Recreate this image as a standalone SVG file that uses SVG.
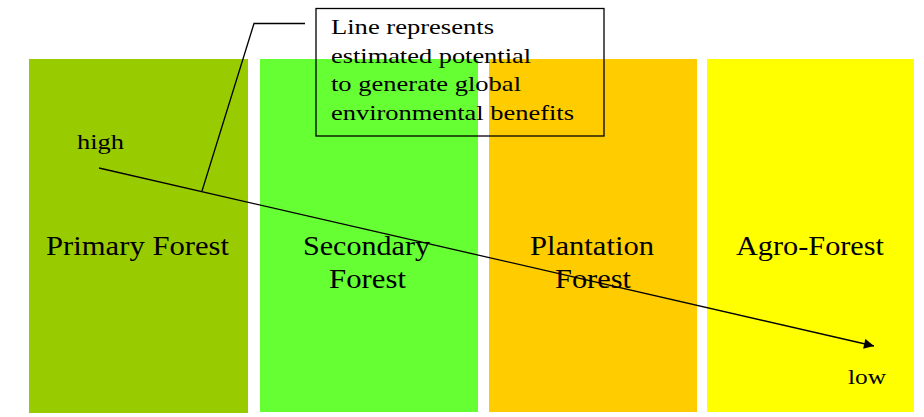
<svg xmlns="http://www.w3.org/2000/svg" width="924" height="417" viewBox="0 0 924 417">
<style>
text{font-family:"Liberation Serif","Times New Roman",serif;fill:#000}
.lbl{font-size:28px}
.box{font-size:21px}
.sm{font-size:22px}
.ln{stroke:#000;stroke-width:1.3;fill:none}
</style>
<defs>
<marker id="ah" viewBox="0 0 10 10" refX="10" refY="5" markerWidth="13" markerHeight="10" markerUnits="userSpaceOnUse" orient="auto">
<path d="M0,0 L10,5 L0,10 z" fill="#000"/>
</marker>
</defs>
<rect width="924" height="417" fill="#fff"/>
<g id="primary">
<rect x="29" y="59" width="219" height="354" fill="#99CC00"/>
<text class="lbl" x="46" y="255" textLength="183" lengthAdjust="spacingAndGlyphs">Primary Forest</text>
</g>
<g id="secondary">
<rect x="260" y="59" width="218" height="353" fill="#66FF33"/>
<text class="lbl" x="303" y="255" textLength="127" lengthAdjust="spacingAndGlyphs">Secondary</text>
<text class="lbl" x="329" y="288" textLength="77" lengthAdjust="spacingAndGlyphs">Forest</text>
</g>
<g id="plantation">
<rect x="489" y="59" width="208" height="353" fill="#FFCC00"/>
<text class="lbl" x="530" y="255" textLength="124" lengthAdjust="spacingAndGlyphs">Plantation</text>
<text class="lbl" x="555" y="288" textLength="76" lengthAdjust="spacingAndGlyphs">Forest</text>
</g>
<g id="agro">
<rect x="707" y="59" width="207" height="353" fill="#FFFF00"/>
<text class="lbl" x="736" y="255" textLength="148" lengthAdjust="spacingAndGlyphs">Agro-Forest</text>
</g>
<g id="note">
<rect x="316" y="8.5" width="288" height="127.5" fill="none" stroke="#000" stroke-width="1.3"/>
<text class="box" x="331" y="34" textLength="163" lengthAdjust="spacingAndGlyphs">Line represents</text>
<text class="box" x="331" y="63" textLength="200" lengthAdjust="spacingAndGlyphs">estimated potential</text>
<text class="box" x="331" y="91" textLength="190" lengthAdjust="spacingAndGlyphs">to generate global</text>
<text class="box" x="331" y="120" textLength="243" lengthAdjust="spacingAndGlyphs">environmental benefits</text>
</g>
<g id="high"><text class="sm" x="77" y="149" textLength="47" lengthAdjust="spacingAndGlyphs">high</text></g>
<g id="low"><text class="sm" x="848" y="384" textLength="38" lengthAdjust="spacingAndGlyphs">low</text></g>
<g id="connectors">
<path class="ln" d="M99,168 L874,346" marker-end="url(#ah)"/>
<path class="ln" d="M305,23.5 L254,23.5 L202,191"/>
</g>
</svg>
